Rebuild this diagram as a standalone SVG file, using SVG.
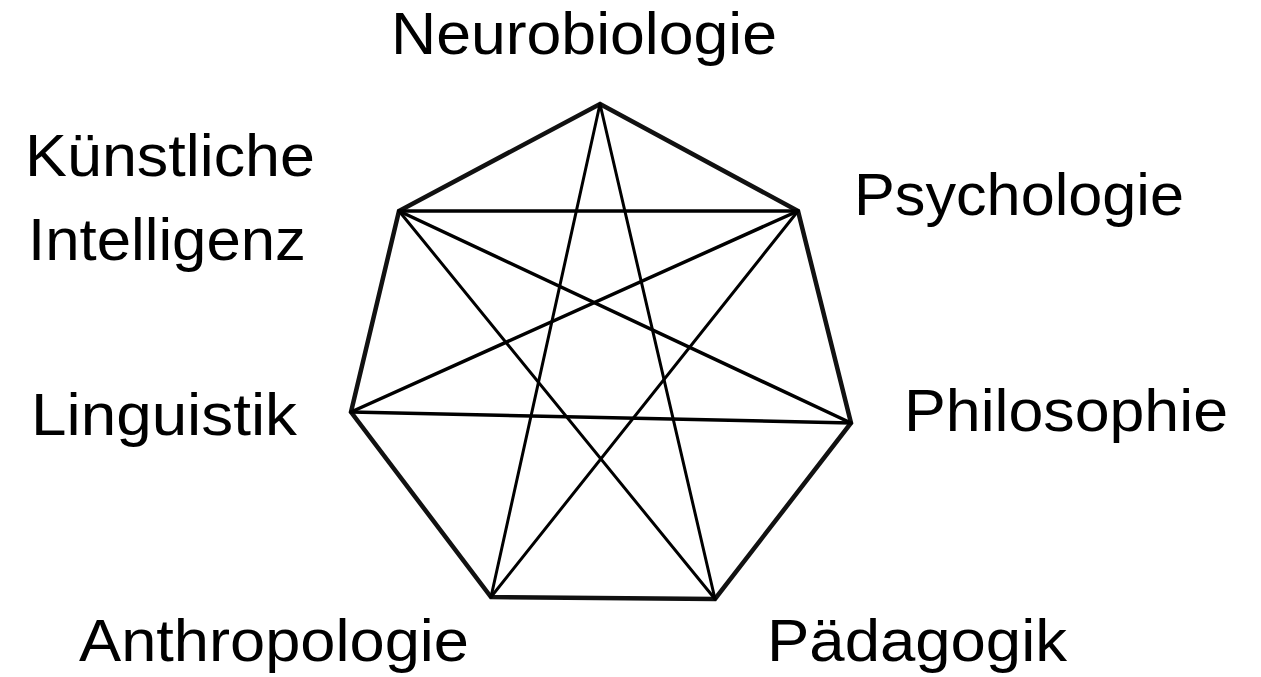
<svg xmlns="http://www.w3.org/2000/svg" width="1261" height="677" viewBox="0 0 1261 677">
<style>
.lbl{font-family:"Liberation Sans",Arial,sans-serif;font-size:59px;fill:#000}
.outline{fill:none;stroke:#111;stroke-width:4.5;stroke-linejoin:miter}
.diag{stroke:#000;stroke-width:3.5;stroke-linecap:round}
.thin{stroke:#000;stroke-width:3;stroke-linecap:round}
</style>
<rect width="1261" height="677" fill="#fff"/>
<g id="connectors">
<polygon class="outline" points="600,104 798,211 851,423 715,599 491,597 351,412 399,211"/>
<line class="thin" x1="600" y1="104" x2="491" y2="597"/>
<line class="thin" x1="600" y1="104" x2="715" y2="599"/>
<line class="diag" x1="399" y1="211" x2="798" y2="211"/>
<line class="diag" x1="399" y1="211" x2="851" y2="423"/>
<line class="thin" x1="399" y1="211" x2="715" y2="599"/>
<line class="diag" x1="798" y1="211" x2="351" y2="412"/>
<line class="thin" x1="798" y1="211" x2="491" y2="597"/>
<line class="diag" x1="351" y1="412" x2="851" y2="423"/>
</g>
<g id="neurobiologie"><text class="lbl" x="391" y="54" textLength="386" lengthAdjust="spacingAndGlyphs">Neurobiologie</text></g>
<g id="ki"><text class="lbl" x="25" y="176" textLength="290" lengthAdjust="spacingAndGlyphs">Künstliche</text><text class="lbl" x="28" y="260" textLength="278" lengthAdjust="spacingAndGlyphs">Intelligenz</text></g>
<g id="psychologie"><text class="lbl" x="854" y="215" textLength="330" lengthAdjust="spacingAndGlyphs">Psychologie</text></g>
<g id="linguistik"><text class="lbl" x="31" y="435" textLength="266" lengthAdjust="spacingAndGlyphs">Linguistik</text></g>
<g id="philosophie"><text class="lbl" x="904" y="431" textLength="324" lengthAdjust="spacingAndGlyphs">Philosophie</text></g>
<g id="anthropologie"><text class="lbl" x="79" y="661" textLength="390" lengthAdjust="spacingAndGlyphs">Anthropologie</text></g>
<g id="paedagogik"><text class="lbl" x="767" y="661" textLength="300" lengthAdjust="spacingAndGlyphs">Pädagogik</text></g>
</svg>
